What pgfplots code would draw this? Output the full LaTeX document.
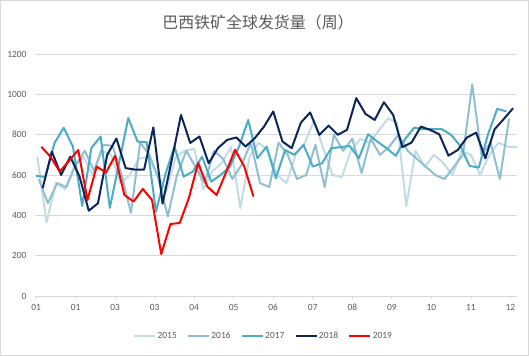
\documentclass[border=0pt]{standalone}
\usepackage{pgfplots}
\pgfplotsset{compat=1.18}
\usepackage{fontspec}
\setmainfont{Carlito}
\newfontfamily\cjk{Noto Sans CJK SC}
\definecolor{c15}{HTML}{C4DBE5}
\definecolor{c16}{HTML}{8FBFD1}
\definecolor{c17}{HTML}{4BACC6}
\definecolor{c18}{HTML}{0C2559}
\definecolor{c19}{HTML}{FF0000}
\definecolor{txt}{HTML}{595959}
\definecolor{grd}{HTML}{D9D9D9}
\begin{document}
\begin{tikzpicture}[x=1bp,y=1bp]
\path[use as bounding box] (0,0) rectangle (529,356);
\draw[grd, line width=0.75bp] (0.4,0.4) rectangle (528.6,355.6);
\node[font=\cjk\fontsize{16}{18}\selectfont, text=txt] at (258,334) {巴西铁矿全球发货量（周）};
\begin{axis}[at={(35bp,60bp)}, anchor=south west, scale only axis,
  width=482bp, height=242bp,
  xmin=-0.8, xmax=365, ymin=0, ymax=1200,
  xtick={0,30,...,360},
  xticklabels={01,01,03,03,04,05,06,07,08,09,10,11,12},
  ytick={0,200,...,1200},
  ymajorgrids, grid style={grd, line width=0.75bp},
  axis x line*=bottom, axis y line*=left,
  x axis line style={grd, line width=0.75bp, -},
  y axis line style={draw=none},
  tick align=outside, major tick length=3bp,
  xtick style={grd, line width=0.75bp},
  ytick style={draw=none},
  ticklabel style={font=\fontsize{9.5}{11}\selectfont, text=txt},
  yticklabel style={/pgf/number format/1000 sep={}, /pgf/number format/assume math mode=true, xshift=-2bp},
  xticklabel style={yshift=-2bp},
  no markers,
  every axis plot/.append style={line width=2bp, line join=round},
  legend style={at={(rel axis cs:0.473,-0.165)}, anchor=center, draw=none, fill=none,
    legend columns=-1, font=\fontsize{9.5}{11}\selectfont, text=txt,
    /tikz/every even column/.append style={column sep=9bp},
    nodes={inner sep=1bp}},
  legend image code/.code={\draw[#1, line width=2.6bp] (0bp,0bp) -- (21bp,0bp);},
]
\addplot[c15] coordinates {(1,690)(8,365)(15,560)(22,530)(29,640)(36,690)(43,600)(50,720)(57,700)(64,560)(71,600)(78,680)(85,690)(92,600)(99,520)(106,690)(113,720)(120,730)(127,530)(134,620)(141,660)(148,740)(155,436)(162,690)(169,760)(176,720)(183,600)(190,560)(197,700)(204,760)(211,870)(218,730)(225,600)(232,590)(239,720)(246,780)(253,760)(260,820)(267,880)(274,860)(281,445)(288,720)(295,640)(302,700)(309,660)(316,600)(323,720)(330,700)(337,600)(344,700)(351,760)(358,740)(365,740)};
\addlegendentry{2015}
\addplot[c16] coordinates {(2,580)(9,460)(16,560)(23,540)(30,650)(37,720)(44,620)(51,750)(58,745)(65,600)(72,412)(79,760)(86,700)(93,580)(100,395)(107,600)(114,720)(121,640)(128,560)(135,720)(142,680)(149,580)(156,650)(163,760)(170,560)(177,540)(184,760)(191,700)(198,580)(205,600)(212,750)(219,540)(226,800)(233,720)(240,780)(247,610)(254,780)(261,700)(268,740)(275,800)(282,720)(289,680)(296,640)(303,600)(310,580)(317,640)(324,700)(331,1050)(338,700)(345,760)(352,580)(359,880)};
\addlegendentry{2016}
\addplot[c17] coordinates {(0,596)(7,590)(14,759)(21,834)(28,741)(35,447)(42,734)(49,791)(56,437)(63,660)(70,883)(77,766)(84,762)(91,418)(98,600)(105,741)(112,592)(119,617)(126,691)(133,567)(140,600)(147,640)(154,740)(161,873)(168,683)(175,741)(182,584)(189,724)(196,700)(203,749)(210,642)(217,658)(224,733)(231,738)(238,744)(245,683)(252,802)(259,766)(266,733)(273,695)(280,778)(287,835)(294,827)(301,827)(308,827)(315,799)(322,744)(329,645)(336,637)(343,802)(350,928)(357,915)};
\addlegendentry{2017}
\addplot[c18] coordinates {(5,535)(12,716)(19,600)(26,691)(33,592)(40,423)(47,460)(54,700)(61,781)(68,634)(75,627)(82,627)(89,836)(96,458)(103,675)(110,898)(117,759)(124,791)(131,658)(138,733)(145,774)(152,786)(159,741)(166,783)(173,840)(180,915)(187,766)(194,733)(201,860)(208,910)(215,799)(222,845)(229,799)(236,824)(243,981)(250,903)(257,873)(264,961)(271,898)(278,738)(285,761)(292,840)(299,824)(306,802)(313,696)(320,724)(327,786)(334,810)(341,683)(348,827)(355,878)(362,931)};
\addlegendentry{2018}
\addplot[c19] coordinates {(4,740)(11,690)(18,617)(25,670)(32,724)(39,476)(46,642)(53,612)(60,695)(67,501)(74,468)(81,531)(88,476)(95,208)(102,357)(109,362)(116,486)(123,660)(130,542)(137,501)(144,610)(151,725)(158,642)(165,493)};
\addlegendentry{2019}
\end{axis}
\end{tikzpicture}
\end{document}
